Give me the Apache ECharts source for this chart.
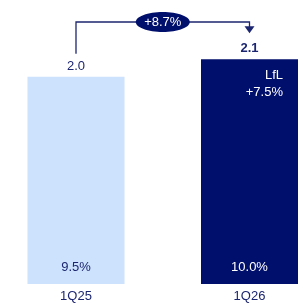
<!DOCTYPE html>
<html>
<head>
<meta charset="utf-8">
<script src="https://cdn.jsdelivr.net/npm/echarts@6/dist/echarts.min.js"></script>
<style>
  html, body { margin: 0; padding: 0; background: #fff; }
  #chart { width: 303px; height: 303px; }
</style>
</head>
<body>
<div id="chart"></div>
<script>
// data
var categories = ['1Q25', '1Q26'];
var values = [2.0, 2.17];            // bar heights (1Q26 drawn at +8.7%)
var valueLabels = ['2.0', '2.1'];
var marginLabels = ['9.5%', '10.0%'];
var lflLabels = ['', 'LfL\n+7.5%'];
var growthLabel = '+8.7%';

var navy = '#000f6b';
var light = '#cde2fc';
var textNavy = '#1c2670';
var font = 'Liberation Sans';

var dom = document.getElementById('chart');
var myChart = echarts.init(dom);

var option = {
    animation: false,
    grid: { left: 76, right: 53.5, top: 25, bottom: 18 },
    xAxis: {
        type: 'category',
        data: categories,
        boundaryGap: false,
        axisLine: { show: false },
        axisTick: { show: false },
        axisLabel: { color: textNavy, fontSize: 13, fontFamily: font, margin: 6 }
    },
    yAxis: {
        type: 'value',
        min: 0,
        max: 2.5,
        show: false
    },
    series: [
        {
            type: 'bar',
            barWidth: 97,
            clip: false,
            data: values.map(function (v, i) {
                return {
                    value: v,
                    itemStyle: { color: i === 0 ? light : navy },
                    label: { fontWeight: i === 0 ? 'normal' : 'bold' }
                };
            }),
            label: {
                show: true,
                position: 'top',
                distance: 4,
                color: textNavy,
                fontSize: 13,
                fontFamily: font,
                formatter: function (p) { return valueLabels[p.dataIndex]; }
            }
        },
        {
            type: 'bar',
            barWidth: 97,
            barGap: '-100%',
            clip: false,
            silent: true,
            itemStyle: { color: 'transparent' },
            data: values.slice(),
            label: {
                show: true,
                position: 'insideBottom',
                distance: 10,
                fontSize: 13,
                fontFamily: font,
                color: textNavy,
                formatter: function (p) { return marginLabels[p.dataIndex]; },
                rich: {}
            },
            labelLayout: {},
            emphasis: { disabled: true }
        },
        {
            type: 'bar',
            barWidth: 97,
            barGap: '-100%',
            clip: false,
            silent: true,
            itemStyle: { color: 'transparent' },
            data: values.slice(),
            label: {
                show: true,
                position: 'insideTopRight',
                distance: 8,
                offset: [-7, 0],
                align: 'right',
                lineHeight: 17,
                fontSize: 13,
                fontFamily: font,
                color: '#ffffff',
                formatter: function (p) { return lflLabels[p.dataIndex]; }
            },
            emphasis: { disabled: true }
        }
    ]
};
// second bar's bottom label is white
option.series[1].data = values.map(function (v, i) {
    return { value: v, label: { color: i === 0 ? textNavy : '#ffffff' } };
});
myChart.setOption(option);

// bracket with growth bubble, anchored on the bars
var p1 = myChart.convertToPixel({ xAxisIndex: 0, yAxisIndex: 0 }, [0, values[0]]);
var p2 = myChart.convertToPixel({ xAxisIndex: 0, yAxisIndex: 0 }, [1, values[1]]);
var lineY = 22;
var startY = p1[1] - 23;
var endY = p2[1] - 26;
var midX = (p1[0] + p2[0]) / 2;

myChart.setOption({
    graphic: [
        {
            type: 'polyline',
            shape: { points: [[p1[0], startY], [p1[0], lineY], [p2[0], lineY], [p2[0], endY - 4]] },
            style: { stroke: textNavy, lineWidth: 1.3, fill: null }
        },
        {
            type: 'polygon',
            shape: { points: [[p2[0] - 5, endY - 7], [p2[0] + 5, endY - 7], [p2[0], endY]] },
            style: { fill: textNavy }
        },
        {
            type: 'ellipse',
            shape: { cx: midX, cy: lineY, rx: 27, ry: 10 },
            style: { fill: navy }
        },
        {
            type: 'text',
            x: midX,
            y: lineY,
            style: {
                text: growthLabel,
                fill: '#ffffff',
                fontSize: 13,
                fontFamily: font,
                align: 'center',
                verticalAlign: 'middle'
            }
        }
    ]
});
</script>
</body>
</html>
